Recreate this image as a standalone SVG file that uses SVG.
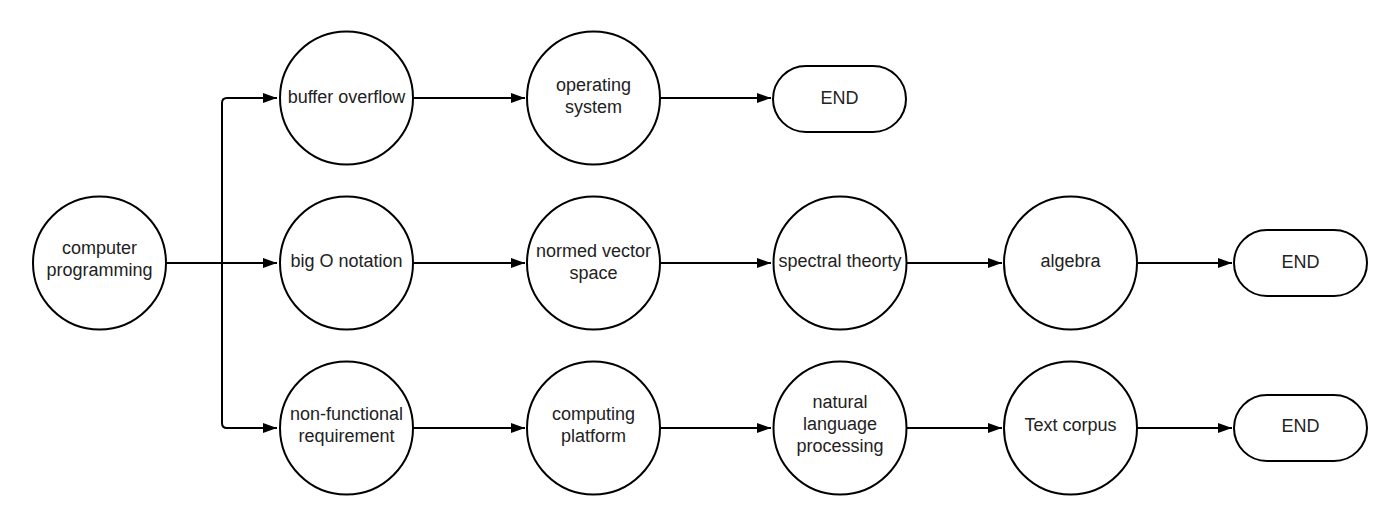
<svg xmlns="http://www.w3.org/2000/svg" width="1400" height="527" viewBox="0 0 1400 527">
<defs>
<style>
.n{fill:#fff;stroke:#000;stroke-width:2}
.t{font-family:"Liberation Sans",Arial,sans-serif;font-size:18px;fill:#222;text-anchor:middle;dominant-baseline:central}
.c{fill:none;stroke:#000;stroke-width:2}
</style>
<marker id="a" viewBox="0 0 14 10" refX="14" refY="5" markerWidth="14" markerHeight="10" markerUnits="userSpaceOnUse" orient="auto">
<path d="M0 0L14 5L0 10z" fill="#000"/>
</marker>
</defs>
<rect width="1400" height="527" fill="#fff"/>
<g id="connectors">
<path class="c" d="M167 263H277" marker-end="url(#a)"/>
<path class="c" d="M222 263V103Q222 98 227 98H277" marker-end="url(#a)"/>
<path class="c" d="M222 263V423Q222 428 227 428H277" marker-end="url(#a)"/>
<path class="c" d="M413 98H525" marker-end="url(#a)"/>
<path class="c" d="M660 98H771" marker-end="url(#a)"/>
<path class="c" d="M413 263H525" marker-end="url(#a)"/>
<path class="c" d="M660 263H771" marker-end="url(#a)"/>
<path class="c" d="M907 263H1002" marker-end="url(#a)"/>
<path class="c" d="M1137 263H1232" marker-end="url(#a)"/>
<path class="c" d="M413 428H525" marker-end="url(#a)"/>
<path class="c" d="M660 428H771" marker-end="url(#a)"/>
<path class="c" d="M907 428H1002" marker-end="url(#a)"/>
<path class="c" d="M1137 428H1232" marker-end="url(#a)"/>
</g>
<g id="n-computer-programming"><circle class="n" cx="99.5" cy="263" r="66.5"/><text class="t" x="99.5" y="248">computer</text><text class="t" x="99.5" y="270">programming</text></g>
<g id="n-buffer-overflow"><circle class="n" cx="346.5" cy="98" r="66.5"/><text class="t" x="346.5" y="97">buffer overflow</text></g>
<g id="n-operating-system"><circle class="n" cx="593.5" cy="98" r="66.5"/><text class="t" x="593.5" y="85">operating</text><text class="t" x="593.5" y="107">system</text></g>
<g id="n-end1"><rect class="n" x="773" y="66" width="133" height="66" rx="33"/><text class="t" x="839.5" y="98">END</text></g>
<g id="n-big-o"><circle class="n" cx="346.5" cy="263" r="66.5"/><text class="t" x="346.5" y="261">big O notation</text></g>
<g id="n-normed"><circle class="n" cx="593.5" cy="263" r="66.5"/><text class="t" x="593.5" y="251">normed vector</text><text class="t" x="593.5" y="273">space</text></g>
<g id="n-spectral"><circle class="n" cx="840" cy="263" r="66.5"/><text class="t" x="840" y="261">spectral theorty</text></g>
<g id="n-algebra"><circle class="n" cx="1070.5" cy="263" r="66.5"/><text class="t" x="1070.5" y="261">algebra</text></g>
<g id="n-end2"><rect class="n" x="1234" y="230" width="133" height="66" rx="33"/><text class="t" x="1300.5" y="262">END</text></g>
<g id="n-nonfunctional"><circle class="n" cx="346.5" cy="428" r="66.5"/><text class="t" x="346.5" y="414">non-functional</text><text class="t" x="346.5" y="436">requirement</text></g>
<g id="n-computing-platform"><circle class="n" cx="593.5" cy="428" r="66.5"/><text class="t" x="593.5" y="414">computing</text><text class="t" x="593.5" y="436">platform</text></g>
<g id="n-nlp"><circle class="n" cx="840" cy="428" r="66.5"/><text class="t" x="840" y="402">natural</text><text class="t" x="840" y="424">language</text><text class="t" x="840" y="446">processing</text></g>
<g id="n-text-corpus"><circle class="n" cx="1070.5" cy="428" r="66.5"/><text class="t" x="1070.5" y="425">Text corpus</text></g>
<g id="n-end3"><rect class="n" x="1234" y="395" width="133" height="66" rx="33"/><text class="t" x="1300.5" y="426">END</text></g>
</svg>
